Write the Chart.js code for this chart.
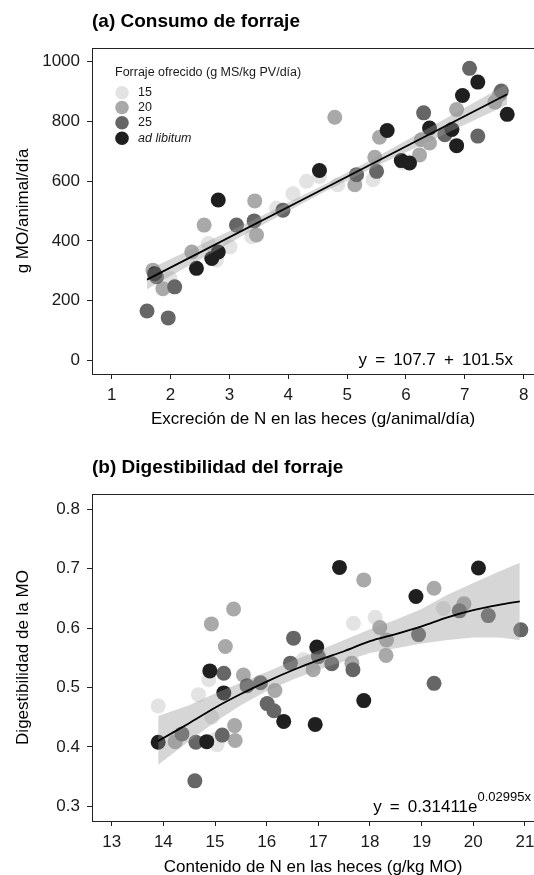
<!DOCTYPE html>
<html>
<head>
<meta charset="utf-8">
<script src="https://cdn.jsdelivr.net/npm/chart.js@4.4.1/dist/chart.umd.min.js"></script>
<style>
  body { margin: 0; background: #fff; overflow: hidden; }
  #wrap { position: relative; width: 534px; height: 875px; overflow: hidden; }
  canvas { position: absolute; left: 0; }
  #chartA { top: 0; }
  #chartB { top: 440px; }
</style>
</head>
<body>
<div id="wrap">
  <canvas id="chartA" width="534" height="440"></canvas>
  <canvas id="chartB" width="534" height="435"></canvas>
</div>
<script>
// groups of offered forage (g MS/kg PV/dia)
var groupLabels = ['15', '20', '25', 'ad libitum'];
var groupColors = ['#e3e3e3', '#a9a9a9', '#666666', '#1f1f1f'];

// (a) intake vs faecal N excretion: [x, y]
var consumo15 = [[1.99, 274], [2.64, 391], [2.78, 336], [3.01, 380], [3.38, 414], [3.80, 509],
  [4.08, 558], [4.31, 600], [4.53, 616], [4.84, 588], [5.44, 605], [5.95, 662]];
var consumo20 = [[1.70, 302], [1.87, 240], [2.36, 363], [2.57, 453], [3.43, 534], [3.46, 420],
  [4.79, 814], [5.13, 588], [5.47, 680], [5.55, 747], [6.23, 688], [6.26, 739], [6.40, 728],
  [6.86, 840], [7.51, 865], [7.59, 890]];
var consumo25 = [[1.60, 165], [1.96, 142], [2.07, 246], [1.76, 280], [3.12, 453], [3.42, 467],
  [3.91, 503], [5.16, 622], [5.50, 633], [6.30, 829], [6.66, 756], [7.08, 978], [7.22, 751], [7.62, 902]];
var consumoAd = [[1.73, 290], [2.44, 308], [2.70, 341], [2.81, 363], [2.81, 537], [4.53, 636],
  [5.68, 770], [5.92, 669], [6.06, 661], [6.40, 778], [6.78, 773], [6.86, 719], [6.96, 887],
  [7.22, 932], [7.72, 824]];

// linear fit y = a + b x and its confidence band
var fitA = { a: 107.7, b: 101.5 };
var fitAX = [1.6, 7.72];
var bandAX = [1.6, 2.5, 3.5, 4.6, 5.5, 6.5, 7.72];
var bandALow = [238, 338, 447, 563, 651, 743, 856];
var bandAHigh = [302, 386, 479, 587, 681, 791, 926];

// (b) digestibility vs faecal N content: [x, y]
var dig15 = [[13.90, 0.469], [14.68, 0.488], [14.88, 0.513], [14.94, 0.450], [15.04, 0.404],
  [15.00, 0.412], [16.71, 0.547], [17.68, 0.608], [18.10, 0.618], [19.42, 0.633]];
var dig20 = [[14.23, 0.409], [14.93, 0.607], [15.20, 0.569], [15.36, 0.632], [15.38, 0.436],
  [15.39, 0.411], [15.55, 0.521], [16.16, 0.495], [16.90, 0.530], [17.65, 0.541], [17.88, 0.681],
  [18.19, 0.601], [18.32, 0.580], [18.31, 0.554], [19.24, 0.667], [19.82, 0.641]];
var dig25 = [[14.36, 0.422], [14.61, 0.343], [14.63, 0.408], [15.17, 0.524], [15.14, 0.420],
  [15.62, 0.503], [15.88, 0.508], [16.01, 0.473], [16.14, 0.461], [16.52, 0.583], [16.46, 0.541],
  [17.00, 0.552], [17.26, 0.540], [17.67, 0.530], [18.94, 0.589], [19.24, 0.507], [19.73, 0.629],
  [20.29, 0.621], [20.92, 0.597]];
var digAd = [[13.90, 0.408], [14.84, 0.409], [14.90, 0.528], [15.17, 0.491], [16.33, 0.443],
  [16.94, 0.438], [16.97, 0.568], [17.41, 0.702], [17.88, 0.478], [18.89, 0.653], [20.10, 0.701]];

// smoothed curve and band for (b)
var curveBX = [13.9, 14.5, 15, 15.5, 16, 16.5, 17, 17.5, 18, 18.5, 19, 19.5, 20, 20.5, 20.9];
var curveBY = [0.410, 0.440, 0.466, 0.489, 0.510, 0.529, 0.546, 0.561, 0.578, 0.590, 0.603, 0.618, 0.630, 0.639, 0.645];
var bandBLow = [0.370, 0.410, 0.442, 0.470, 0.494, 0.513, 0.530, 0.544, 0.558, 0.566, 0.574, 0.580, 0.584, 0.584, 0.580];
var bandBHigh = [0.452, 0.470, 0.490, 0.508, 0.526, 0.545, 0.562, 0.580, 0.598, 0.614, 0.632, 0.656, 0.676, 0.695, 0.710];

var FONT = '"Liberation Sans", Arial, sans-serif';
var INK = '#1a1a1a';
var THIN = '\u2009';

function pts(arr) {
  return arr.map(function (p) { return { x: p[0], y: p[1] }; });
}
function zip(xs, ys) {
  return xs.map(function (x, i) { return { x: x, y: ys[i] }; });
}

function pointSets(groups) {
  // black drawn first, light last
  return groups.map(function (g, i) {
    return {
      type: 'scatter',
      label: groupLabels[i],
      data: pts(g),
      backgroundColor: groupColors[i],
      borderWidth: 0,
      pointRadius: 7.5,
      pointHoverRadius: 7.5,
      order: 4 + (3 - i) + 1
    };
  });
}

function fitSets(bx, lo, hi, line) {
  return [
    { type: 'line', data: zip(bx, lo), borderWidth: 0, pointRadius: 0, fill: false, order: 2 },
    { type: 'line', data: zip(bx, hi), borderWidth: 0, pointRadius: 0,
      fill: '-1', backgroundColor: 'rgba(153,153,153,0.4)', order: 2 },
    { type: 'line', data: line, borderColor: '#000', borderWidth: 1.8, pointRadius: 0,
      fill: false, tension: 0.3, order: 1 }
  ];
}

// panel title, legend, equation and top frame line
var panelText = {
  id: 'panelText',
  afterDraw: function (chart, args, opts) {
    var ctx = chart.ctx, area = chart.chartArea;
    ctx.save();
    ctx.strokeStyle = '#222';
    ctx.lineWidth = 1;
    ctx.beginPath();
    ctx.moveTo(area.left, area.top + 0.5);
    ctx.lineTo(area.right, area.top + 0.5);
    ctx.stroke();

    ctx.fillStyle = '#000';
    ctx.textBaseline = 'middle';
    ctx.textAlign = 'left';
    ctx.font = 'bold 19px ' + FONT;
    ctx.fillText(opts.title, 92, opts.titleY);

    if (opts.legend) {
      ctx.fillStyle = INK;
      ctx.font = '12.5px ' + FONT;
      ctx.fillText('Forraje ofrecido (g MS/kg PV/día)', 115, 73);
      var ys = [92.7, 107.5, 122.8, 138.3];
      groupLabels.forEach(function (lab, i) {
        ctx.fillStyle = groupColors[i];
        ctx.beginPath();
        ctx.arc(122, ys[i], 6.8, 0, Math.PI * 2);
        ctx.fill();
        ctx.fillStyle = INK;
        ctx.font = (i === 3 ? 'italic ' : '') + '12.5px ' + FONT;
        ctx.fillText(lab, 138, ys[i]);
      });
    }

    ctx.fillStyle = '#000';
    ctx.textAlign = 'right';
    if (opts.sup) {
      ctx.font = '13px ' + FONT;
      var w = ctx.measureText(opts.sup).width;
      ctx.fillText(opts.sup, opts.eqRight, opts.eqY - 10);
      ctx.font = '17px ' + FONT;
      ctx.fillText(opts.eq, opts.eqRight - w, opts.eqY);
    } else {
      ctx.font = '17px ' + FONT;
      ctx.fillText(opts.eq, opts.eqRight, opts.eqY);
    }
    ctx.restore();
  }
};

function axis(min, max, step, title, titlePad, fit) {
  return {
    type: 'linear',
    min: min,
    max: max,
    grid: { display: true, drawOnChartArea: false, drawTicks: true, tickLength: 5, color: '#222', lineWidth: 1 },
    border: { display: true, color: '#222', width: 1 },
    ticks: {
      stepSize: step,
      includeBounds: false,
      padding: fit.tickPad,
      color: INK,
      font: { family: FONT, size: 17 },
      callback: function (v) { return String(v); }
    },
    title: { display: true, text: title, color: '#000', font: { family: FONT, size: 17 }, padding: titlePad },
    afterFit: function (s) {
      if (fit.width) s.width = fit.width;
      if (fit.height) s.height = fit.height;
      s.paddingLeft = 0; s.paddingRight = 0; s.paddingTop = 0; s.paddingBottom = 0;
    }
  };
}

function baseOptions(padTop, xs, ys, text) {
  return {
    responsive: false,
    animation: false,
    layout: { autoPadding: false, padding: { top: padTop, left: 0, right: 0, bottom: 0 } },
    plugins: { legend: { display: false }, tooltip: { enabled: false }, panelText: text },
    scales: { x: xs, y: ys }
  };
}

var lineA = fitAX.map(function (x) { return { x: x, y: fitA.a + fitA.b * x }; });

new Chart(document.getElementById('chartA'), {
  type: 'scatter',
  data: {
    datasets: pointSets([consumo15, consumo20, consumo25, consumoAd])
      .concat(fitSets(bandAX, bandALow, bandAHigh, lineA))
  },
  options: baseOptions(48,
    axis(0.665, 8.175, 1, 'Excreción de N en las heces (g/animal/día)', { top: 0, bottom: 10 }, { height: 66, tickPad: 6 }),
    axis(-45.9, 1046.2, 200, 'g MO/animal/día', { top: 13, bottom: 0 }, { width: 92, tickPad: 7 }),
    { title: '(a) Consumo de forraje', titleY: 22, legend: true,
      eq: 'y' + THIN + ' = ' + THIN + '107.7' + THIN + ' + ' + THIN + '101.5x', eqRight: 513, eqY: 360 }),
  plugins: [panelText]
});

new Chart(document.getElementById('chartB'), {
  type: 'scatter',
  data: {
    datasets: pointSets([dig15, dig20, dig25, digAd])
      .concat(fitSets(curveBX, bandBLow, bandBHigh, zip(curveBX, curveBY)))
  },
  options: baseOptions(54,
    axis(12.619, 21.175, 1, 'Contenido de N en las heces (g/kg MO)', { top: 0, bottom: -3 }, { height: 54, tickPad: 6 }),
    axis(0.2755, 0.8255, 0.1, 'Digestibilidad de la MO', { top: 13, bottom: 0 }, { width: 92, tickPad: 7 }),
    { title: '(b) Digestibilidad del forraje', titleY: 28, legend: false,
      eq: 'y' + THIN + ' = ' + THIN + '0.31411e', sup: '0.02995x', eqRight: 531, eqY: 367 }),
  plugins: [panelText]
});
</script>
</body>
</html>
